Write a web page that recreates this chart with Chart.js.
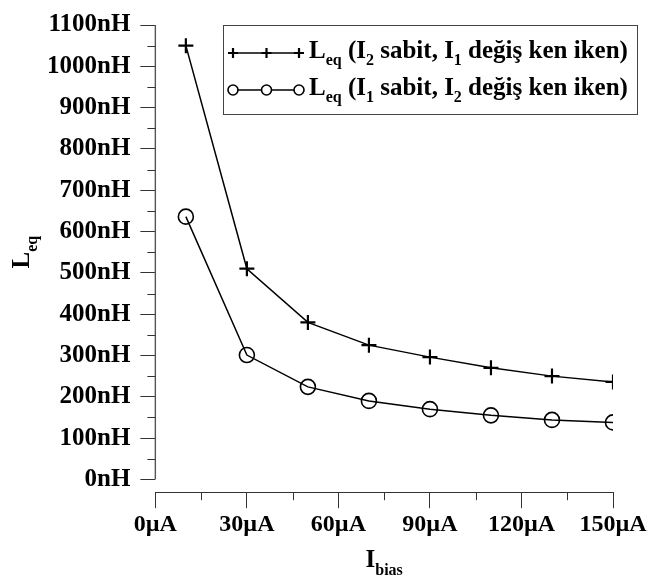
<!DOCTYPE html>
<html>
<head>
<meta charset="utf-8">
<script src="https://cdn.jsdelivr.net/npm/chart.js@4.4.0/dist/chart.umd.min.js"></script>
<style>
  html, body { margin: 0; padding: 0; background: #fff; }
  #wrap { width: 649px; height: 578px; }
</style>
</head>
<body>
<div id="wrap"><canvas id="chart"></canvas></div>
<script>
// bias current (µA)
const biasValues = [10, 30, 50, 70, 90, 110, 130, 150];
// Leq with I2 fixed, I1 varying (nH)
const leqI2Fixed = [1050, 510, 380, 325, 296, 270, 250, 236];
// Leq with I1 fixed, I2 varying (nH)
const leqI1Fixed = [636, 301, 224, 190, 170, 155, 144, 138];

// tick positions (major ones get a label)
const xTickValues = [0, 15, 30, 45, 60, 75, 90, 105, 120, 135, 150];
const xMajorStep = 30;
const yTickValues = [0, 50, 100, 150, 200, 250, 300, 350, 400, 450, 500, 550,
  600, 650, 700, 750, 800, 850, 900, 950, 1000, 1050, 1100];
const yMajorStep = 100;
const yMax = 1100;
const yMin = -31; // leaves a gap between the y axis end and the x axis

const seriesLabels = [
  "Leq (I2 sabit, I1 değiş ken iken)",
  "Leq (I1 sabit, I2 değiş ken iken)"
];
// same labels split into normal / subscript parts
const legendParts = [
  [["L"], ["eq", 1], [" (I"], ["2", 1], [" sabit, I"], ["1", 1], [" değiş ken iken)"]],
  [["L"], ["eq", 1], [" (I"], ["1", 1], [" sabit, I"], ["2", 1], [" değiş ken iken)"]]
];
const yTitleParts = [["L"], ["eq", 1]];
const xTitleParts = [["I"], ["bias", 1]];

const FAMILY = "'Liberation Serif', 'Times New Roman', serif";
const mainFont = "bold 25px " + FAMILY;
const subFont = "bold 16px " + FAMILY;

function drawRich(ctx, parts, x, y, align, subShift) {
  let total = 0;
  parts.forEach((p) => {
    ctx.font = p[1] ? subFont : mainFont;
    total += ctx.measureText(p[0]).width;
  });
  let cx = align === "center" ? x - total / 2 : x;
  ctx.textAlign = "left";
  ctx.textBaseline = "alphabetic";
  parts.forEach((p) => {
    ctx.font = p[1] ? subFont : mainFont;
    ctx.fillText(p[0], cx, p[1] ? y + subShift : y);
    cx += ctx.measureText(p[0]).width;
  });
}

const extrasPlugin = {
  id: "extras",
  afterDraw(chart) {
    const ctx = chart.ctx;
    const area = chart.chartArea;
    const xs = chart.scales.x;
    const ys = chart.scales.y;
    ctx.save();

    // y axis line, only over the value range
    ctx.strokeStyle = "#555";
    ctx.lineWidth = 1.4;
    ctx.beginPath();
    ctx.moveTo(area.left, ys.getPixelForValue(yMax));
    ctx.lineTo(area.left, ys.getPixelForValue(0));
    ctx.stroke();

    // minor ticks
    ctx.strokeStyle = "#333";
    ctx.lineWidth = 1;
    ctx.beginPath();
    yTickValues.forEach((v) => {
      if (v % yMajorStep !== 0) {
        const py = Math.round(ys.getPixelForValue(v)) + 0.5;
        ctx.moveTo(area.left - 8, py);
        ctx.lineTo(area.left, py);
      }
    });
    xTickValues.forEach((v) => {
      if (v % xMajorStep !== 0) {
        const px = Math.round(xs.getPixelForValue(v)) + 0.5;
        ctx.moveTo(px, area.bottom);
        ctx.lineTo(px, area.bottom + 8);
      }
    });
    ctx.stroke();

    // axis titles
    ctx.fillStyle = "#000";
    drawRich(ctx, xTitleParts, (area.left + area.right) / 2, 567, "center", 8);
    ctx.save();
    ctx.translate(29, ys.getPixelForValue(yMax / 2));
    ctx.rotate(-Math.PI / 2);
    drawRich(ctx, yTitleParts, 0, 0, "center", 8);
    ctx.restore();

    // legend box
    ctx.strokeStyle = "#444";
    ctx.lineWidth = 1;
    ctx.strokeRect(223.5, 25.5, 414, 89);
    const rowY = [53, 90];
    const baseY = [58, 95];
    chart.data.datasets.forEach((ds, i) => {
      const my = rowY[i];
      ctx.strokeStyle = "#000";
      ctx.lineWidth = 1.5;
      ctx.beginPath();
      ctx.moveTo(229, my);
      ctx.lineTo(303, my);
      ctx.stroke();
      [233, 266.5, 299].forEach((mx) => {
        ctx.fillStyle = "#fff";
        ctx.strokeStyle = "#000";
        ctx.lineWidth = ds.pointBorderWidth;
        Chart.helpers.drawPoint(ctx, {
          pointStyle: ds.pointStyle,
          radius: 5,
          borderWidth: ds.pointBorderWidth
        }, mx, my);
      });
      ctx.fillStyle = "#000";
      drawRich(ctx, legendParts[i], 309, baseY[i], "left", 7);
    });
    ctx.restore();
  }
};

const ctx = document.getElementById("chart");

new Chart(ctx, {
  type: "line",
  data: {
    datasets: [
      {
        label: seriesLabels[0],
        data: biasValues.map((x, i) => ({ x: x, y: leqI2Fixed[i] })),
        borderColor: "#000",
        borderWidth: 1.5,
        pointStyle: "cross",
        pointRadius: 7.5,
        pointBorderWidth: 2.2,
        pointBorderColor: "#000",
        pointBackgroundColor: "transparent",
        tension: 0
      },
      {
        label: seriesLabels[1],
        data: biasValues.map((x, i) => ({ x: x, y: leqI1Fixed[i] })),
        borderColor: "#000",
        borderWidth: 1.5,
        pointStyle: "circle",
        pointRadius: 7.5,
        pointBorderWidth: 1.6,
        pointBorderColor: "#000",
        pointBackgroundColor: "transparent",
        tension: 0
      }
    ]
  },
  options: {
    responsive: true,
    maintainAspectRatio: false,
    animation: false,
    layout: {
      padding: { left: 37, right: 36, top: 19, bottom: 37 }
    },
    plugins: {
      legend: { display: false },
      tooltip: { enabled: false }
    },
    scales: {
      x: {
        type: "linear",
        min: 0,
        max: 150,
        afterBuildTicks: (scale) => {
          scale.ticks = xTickValues.map((v) => ({ value: v }));
        },
        ticks: {
          autoSkip: false,
          maxRotation: 0,
          padding: 2,
          color: "#000",
          font: { family: FAMILY, size: 24, weight: "bold" },
          callback: (v) => (v % xMajorStep === 0 ? v + "µA" : "")
        },
        grid: {
          drawOnChartArea: false,
          tickLength: 16,
          tickWidth: 1,
          tickColor: (c) => (c.tick && c.tick.value % xMajorStep === 0 ? "#333" : "transparent")
        },
        border: { display: true, color: "#333", width: 1 }
      },
      y: {
        type: "linear",
        min: yMin,
        max: yMax,
        afterBuildTicks: (scale) => {
          scale.ticks = yTickValues.map((v) => ({ value: v }));
        },
        ticks: {
          autoSkip: false,
          padding: 10,
          color: "#000",
          font: { family: FAMILY, size: 25, weight: "bold" },
          callback: (v) => (v % yMajorStep === 0 ? v + "nH" : "")
        },
        grid: {
          drawOnChartArea: false,
          tickLength: 15,
          tickWidth: 1,
          tickColor: (c) => (c.tick && c.tick.value % yMajorStep === 0 ? "#333" : "transparent")
        },
        border: { display: false }
      }
    }
  },
  plugins: [extrasPlugin]
});
</script>
</body>
</html>
